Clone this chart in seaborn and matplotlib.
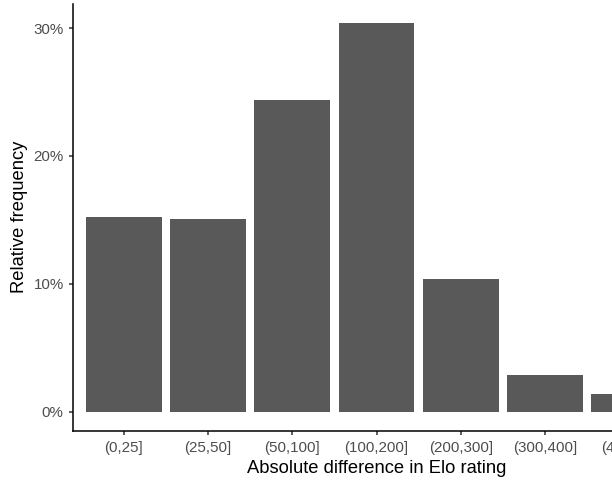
import matplotlib
matplotlib.use("Agg")
import matplotlib.pyplot as plt
import seaborn as sns
import pandas as pd
from matplotlib.ticker import FuncFormatter

categories = ["(0,25]", "(25,50]", "(50,100]", "(100,200]", "(200,300]", "(300,400]", "(400,Inf]"]
rel_freq = [0.152, 0.151, 0.244, 0.304, 0.104, 0.029, 0.014]

df = pd.DataFrame({"bin": categories, "freq": rel_freq})

sns.set_theme(style="ticks")
plt.rcParams["font.family"] = ["Liberation Sans", "DejaVu Sans"]

fig = plt.figure(figsize=(6.12, 4.84), dpi=100)
W, H = 612, 484
left, right, top, bottom = 73, 680, 3.6, 431
ax = fig.add_axes([left / W, (H - bottom) / H, (right - left) / W, (bottom - top) / H])

sns.barplot(data=df, x="bin", y="freq", color="#595959", width=0.9,
            saturation=1, ax=ax, edgecolor="none")

ax.set_xlim(-0.6, len(categories) - 1 + 0.6)
ymax = max(rel_freq)
ax.set_ylim(-0.05 * ymax, ymax * 1.05)
ax.set_yticks([0, 0.1, 0.2, 0.3])
ax.yaxis.set_major_formatter(FuncFormatter(lambda v, p: f"{v*100:.0f}%"))

for s in ["top", "right"]:
    ax.spines[s].set_visible(False)
for s in ["left", "bottom"]:
    ax.spines[s].set_linewidth(1.1)
    ax.spines[s].set_color("black")
    ax.spines[s].set_clip_on(False)

ax.tick_params(axis="both", length=3.1, width=1.1, color="#333333",
               labelsize=10.9, labelcolor="#4d4d4d")
ax.tick_params(axis="y", pad=3.6)
ax.tick_params(axis="x", pad=4.2)
ax.set_xlabel("Absolute difference in Elo rating", fontsize=13.2, color="black", labelpad=3.5)
ax.set_ylabel("Relative frequency", fontsize=13.2, color="black", labelpad=4)

fig.savefig("out.png", dpi=100)
